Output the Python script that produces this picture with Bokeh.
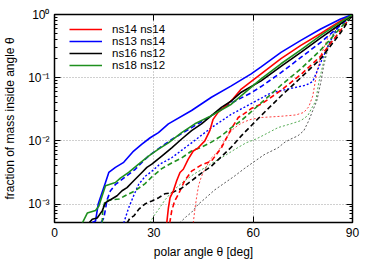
from bokeh.plotting import figure
from bokeh.models import FixedTicker, LinearAxis, LogAxis, Legend, LegendItem, CustomJSTickFormatter
from bokeh.embed import file_html
from bokeh.resources import INLINE

# ---------------- data ----------------
x_ticks = [0, 30, 60, 90]
y_ticks = [0.001, 0.01, 0.1, 1]
y_tick_labels = ["10\u207b\u00b3", "10\u207b\u00b2", "10\u207b\u00b9", "10\u2070"]

labels = ["ns14 ns14", "ns13 ns14", "ns16 ns12", "ns18 ns12"]
colors = ["#ff0000", "#0000ff", "#000000", "#1e901e"]

# ns14 ns14 (red)
r_solid_x = [33.9, 34.4, 34.9, 35.9, 36.9, 37.9, 38.9, 40.4, 41.9, 43.4, 45.4, 46.9, 47.9, 49.4, 51.9, 54.0, 56.4, 62.4, 68.4, 74.4, 80.4, 86.4, 90]
r_solid_y = [5.0e-4, 8.7e-4, 1.26e-3, 1.62e-3, 2.34e-3, 3.16e-3, 3.55e-3, 5.13e-3, 6.9e-3, 7.76e-3, 0.01, 0.0145, 0.0219, 0.0282, 0.0363, 0.0468, 0.066, 0.115, 0.2, 0.324, 0.501, 0.794, 1.0]
r_dash_x = [34.8, 35.4, 36.3, 37.5, 39.3, 41.4, 44.4, 47.4, 50.4, 53.4, 55.5, 57.3, 59.4, 62.4, 68.4, 74.4, 80.4, 86.4, 90]
r_dash_y = [5.0e-4, 7.8e-4, 1.12e-3, 1.45e-3, 2.34e-3, 3.31e-3, 4.17e-3, 4.79e-3, 7.76e-3, 0.0155, 0.0234, 0.0269, 0.0324, 0.038, 0.063, 0.112, 0.219, 0.562, 1.0]
r_dot_x = [41.9, 42.4, 42.9, 43.5, 44.4, 45.9, 47.4, 49.5, 51.3, 53.4, 55.5, 57.3, 59.4, 62.4, 68.4, 72.9, 75.3, 76.8, 78.0, 79.2, 80.4, 82.5, 85.5, 90]
r_dot_y = [5.0e-4, 8.3e-4, 1.26e-3, 1.95e-3, 2.75e-3, 3.98e-3, 5.37e-3, 6.9e-3, 0.01, 0.0145, 0.0178, 0.02, 0.0219, 0.0234, 0.0245, 0.0257, 0.0282, 0.0347, 0.0513, 0.12, 0.224, 0.417, 0.676, 1.0]

# ns13 ns14 (blue)
b_solid_x = [11.4, 12.4, 13.2, 15.4, 16.4, 18.4, 20.9, 23.9, 26.4, 28.9, 31.4, 34.4, 41.4, 47.4, 53.4, 59.4, 62.4, 68.4, 74.4, 80.4, 86.4, 90]
b_solid_y = [5.1e-4, 5.4e-4, 1.0e-3, 2.19e-3, 3.16e-3, 3.8e-3, 4.57e-3, 6.9e-3, 8.9e-3, 0.0112, 0.0135, 0.0186, 0.0302, 0.049, 0.0741, 0.115, 0.148, 0.251, 0.389, 0.589, 0.851, 1.0]
b_dash_x = [14.1, 14.9, 15.9, 16.9, 18.4, 20.4, 22.4, 24.4, 26.4, 28.4, 30.4, 35.4, 41.4, 47.4, 53.4, 59.4, 62.4, 68.4, 74.4, 80.4, 86.4, 90]
b_dash_y = [5.1e-4, 6.0e-4, 1.17e-3, 1.62e-3, 2.04e-3, 2.45e-3, 2.95e-3, 3.55e-3, 4.57e-3, 5.75e-3, 6.9e-3, 0.0105, 0.0162, 0.0251, 0.0398, 0.0575, 0.0724, 0.12, 0.209, 0.363, 0.676, 1.0]
b_dot_x = [20.9, 22.4, 23.9, 25.4, 27.4, 29.4, 31.8, 35.4, 41.4, 47.4, 53.4, 59.4, 65.4, 71.4, 75.9, 78.0, 80.4, 83.4, 86.4, 90]
b_dot_y = [5.0e-4, 8.7e-4, 1.35e-3, 2.04e-3, 2.75e-3, 3.3e-3, 4.27e-3, 5.4e-3, 9.3e-3, 0.0162, 0.0263, 0.0389, 0.0575, 0.0676, 0.0759, 0.087, 0.174, 0.389, 0.741, 1.0]

# ns16 ns12 (black)
k_solid_x = [10.4, 11.4, 12.9, 14.4, 15.4, 16.9, 18.9, 20.4, 21.9, 23.4, 24.9, 26.4, 27.9, 29.4, 32.4, 35.4, 38.4, 41.4, 44.4, 47.4, 50.4, 53.4, 56.4, 62.4, 68.4, 74.4, 80.4, 86.4, 90]
k_solid_y = [5.0e-4, 5.75e-4, 6.0e-4, 7.8e-4, 1.05e-3, 1.17e-3, 1.35e-3, 1.62e-3, 1.82e-3, 2.19e-3, 2.63e-3, 3.16e-3, 3.8e-3, 4.27e-3, 5.75e-3, 7.76e-3, 0.0107, 0.0145, 0.0186, 0.0251, 0.0339, 0.0427, 0.0589, 0.0891, 0.151, 0.251, 0.427, 0.708, 1.0]
k_dash_x = [21.9, 22.8, 24.0, 25.5, 27.3, 29.4, 31.5, 33.3, 35.4, 38.4, 41.4, 44.4, 47.4, 50.4, 53.4, 56.4, 62.4, 68.4, 74.4, 80.4, 86.4, 90]
k_dash_y = [5.0e-4, 6.0e-4, 6.5e-4, 8.3e-4, 1.0e-3, 1.12e-3, 1.26e-3, 1.45e-3, 1.51e-3, 1.78e-3, 2.34e-3, 3.09e-3, 3.98e-3, 5.62e-3, 7.94e-3, 0.012, 0.0251, 0.0513, 0.1, 0.2, 0.513, 1.0]
k_dot_x = [37.8, 39.6, 41.4, 43.5, 45.3, 48.3, 51.3, 54.3, 57.3, 60.3, 63.3, 67.5, 69.6, 71.4, 73.5, 75.3, 76.8, 78.0, 79.2, 80.4, 81.3, 82.8, 84.9, 87.3, 90]
k_dot_y = [5.0e-4, 6.2e-4, 7.4e-4, 1.0e-3, 1.2e-3, 1.66e-3, 2.14e-3, 2.75e-3, 3.63e-3, 4.68e-3, 6.03e-3, 7.76e-3, 9.55e-3, 0.0107, 0.012, 0.0145, 0.0209, 0.0302, 0.0427, 0.0832, 0.155, 0.324, 0.562, 0.871, 1.0]

# ns18 ns12 (green)
g_solid_x = [8.4, 9.9, 12.4, 13.4, 14.4, 15.4, 18.4, 19.9, 22.4, 25.4, 28.4, 31.4, 34.4, 38.4, 42.4, 47.4, 53.4, 62.4, 68.4, 74.4, 80.4, 86.4, 90]
g_solid_y = [5.0e-4, 7.2e-4, 7.9e-4, 9.3e-4, 1.35e-3, 1.95e-3, 2.19e-3, 2.57e-3, 3.16e-3, 4.27e-3, 5.75e-3, 7.4e-3, 9.3e-3, 0.0135, 0.0186, 0.0251, 0.038, 0.0955, 0.166, 0.275, 0.468, 0.759, 1.0]
g_dash_x = [14.4, 14.6, 15.3, 17.4, 19.5, 21.3, 24.3, 27.3, 29.4, 32.4, 35.4, 38.4, 41.4, 44.4, 47.4, 50.4, 53.4, 56.4, 62.4, 68.4, 74.4, 80.4, 86.4, 90]
g_dash_y = [5.0e-4, 8.3e-4, 1.12e-3, 1.17e-3, 1.2e-3, 1.35e-3, 1.62e-3, 2.09e-3, 2.69e-3, 3.63e-3, 4.47e-3, 5.37e-3, 6.9e-3, 7.94e-3, 9.55e-3, 0.012, 0.0162, 0.0209, 0.0398, 0.0759, 0.138, 0.275, 0.617, 1.0]
g_dot_x = [28.8, 30.0, 31.5, 33.3, 35.4, 37.5, 39.3, 42.3, 45.3, 48.3, 51.3, 54.3, 57.9, 60.9, 63.9, 67.5, 71.4, 74.4, 76.5, 77.7, 78.9, 79.8, 81.0, 82.5, 84.3, 87.0, 90]
g_dot_y = [5.0e-4, 6.5e-4, 8.3e-4, 1.15e-3, 1.55e-3, 1.95e-3, 2.34e-3, 3.02e-3, 3.72e-3, 4.68e-3, 5.75e-3, 7.24e-3, 9.33e-3, 0.0107, 0.0129, 0.0162, 0.0186, 0.0209, 0.0251, 0.0331, 0.0427, 0.0832, 0.155, 0.324, 0.513, 0.794, 1.0]

# ---------------- figure ----------------
FONT = "Liberation Sans"
p = figure(width=374, height=261, x_range=(0, 90), y_range=(5.1e-4, 1.0),
           y_axis_type="log", output_backend="svg", toolbar_location=None,
           min_border_left=52, min_border_right=22, min_border_top=14, min_border_bottom=39)
p.background_fill_color = "white"
p.border_fill_color = "white"
p.outline_line_color = "black"
p.outline_line_width = 1.5

y_minor = [k * d for d in (1e-4, 1e-3, 1e-2, 1e-1) for k in range(2, 10)]

p.xaxis.ticker = FixedTicker(ticks=x_ticks)
p.yaxis.ticker = FixedTicker(ticks=y_ticks, minor_ticks=y_minor)
p.yaxis.major_label_overrides = dict(zip(y_ticks, y_tick_labels))

for ax in (p.xaxis[0], p.yaxis[0]):
    ax.axis_line_color = None
    ax.major_tick_in = 6
    ax.major_tick_out = 0
    ax.minor_tick_in = 3
    ax.minor_tick_out = 0
    ax.major_tick_line_width = 1
    ax.major_label_text_font = FONT
    ax.major_label_text_font_size = "12px"
    ax.major_label_text_color = "black"
    ax.axis_label_text_font = FONT
    ax.axis_label_text_font_size = "12px"
    ax.axis_label_text_font_style = "normal"
    ax.axis_label_text_color = "black"

p.xaxis.axis_label = "polar angle \u03b8 [deg]"
p.yaxis.axis_label = "fraction of mass inside angle \u03b8"
p.xaxis.major_label_standoff = 5
p.xaxis.axis_label_standoff = 5
p.yaxis.major_label_standoff = 5
p.yaxis.axis_label_standoff = 8

blank = CustomJSTickFormatter(code="return ''")
top = LinearAxis(ticker=FixedTicker(ticks=x_ticks), formatter=blank, axis_line_color=None,
                 major_tick_in=6, major_tick_out=0, minor_tick_in=0, minor_tick_out=0,
                 major_label_standoff=0, major_label_text_font_size="1px")
right = LogAxis(ticker=FixedTicker(ticks=y_ticks, minor_ticks=y_minor), formatter=blank,
                axis_line_color=None, major_tick_in=6, major_tick_out=0,
                minor_tick_in=3, minor_tick_out=0, major_label_standoff=0,
                major_label_text_font_size="1px")
p.add_layout(top, "above")
p.add_layout(right, "right")

for g in (p.xgrid[0], p.ygrid[0]):
    g.grid_line_color = "#a0a0a0"
    g.grid_line_dash = "1 2"
    g.grid_line_width = 1

# ---------------- lines ----------------
series = [
    (r_solid_x, r_solid_y, r_dot_x, r_dot_y, r_dash_x, r_dash_y),
    (b_solid_x, b_solid_y, b_dot_x, b_dot_y, b_dash_x, b_dash_y),
    (k_solid_x, k_solid_y, k_dot_x, k_dot_y, k_dash_x, k_dash_y),
    (g_solid_x, g_solid_y, g_dot_x, g_dot_y, g_dash_x, g_dash_y),
]

thin_dot_alpha = {0: 0.75, 1: 1.0, 2: 0.65, 3: 0.75}
solid_renderers = []
for i, (sx, sy, ox, oy, dx, dy) in enumerate(series):
    lw = 1.4 if i == 1 else 1.0
    p.line(ox, oy, line_color=colors[i], line_width=lw, line_dash="2 2", line_alpha=thin_dot_alpha[i])
for i, (sx, sy, ox, oy, dx, dy) in enumerate(series):
    p.line(dx, dy, line_color=colors[i], line_width=1.6, line_dash="5 3")
for i, (sx, sy, ox, oy, dx, dy) in enumerate(series):
    r = p.line(sx, sy, line_color=colors[i], line_width=1.6)
    solid_renderers.append(r)

legend = Legend(items=[LegendItem(label=labels[i], renderers=[solid_renderers[i]]) for i in range(4)],
                location=(15, 151), orientation="vertical")
legend.background_fill_alpha = 0
legend.border_line_color = None
legend.glyph_width = 33
legend.glyph_height = 12
legend.label_height = 12
legend.label_standoff = 10
legend.spacing = 0
legend.padding = 0
legend.margin = 0
legend.label_text_font = FONT
legend.label_text_font_size = "11.5px"
legend.label_text_color = "black"
p.add_layout(legend)

open("out.html", "w").write(file_html(p, INLINE))
